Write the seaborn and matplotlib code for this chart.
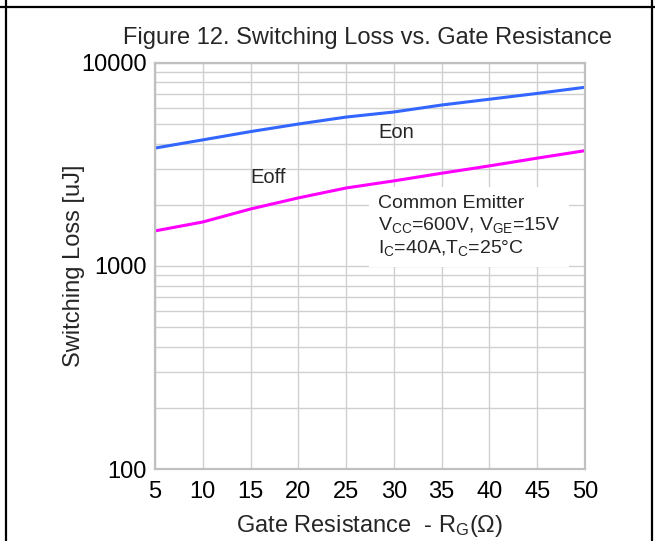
import matplotlib
matplotlib.use("Agg")
import matplotlib.pyplot as plt
from matplotlib.lines import Line2D
import pandas as pd
import seaborn as sns

# gate resistance [ohm] and switching losses [uJ]
rg = [5, 10, 15, 20, 25, 30, 35, 40, 45, 50]
eon = [3800, 4170, 4580, 4990, 5400, 5720, 6190, 6610, 7060, 7570]
eoff = [1486, 1644, 1905, 2160, 2417, 2620, 2857, 3105, 3390, 3690]

y_ticks = [100, 1000, 10000]
x_ticks = [5, 10, 15, 20, 25, 30, 35, 40, 45, 50]

df = pd.DataFrame({
    "Rg": rg + rg,
    "loss": eon + eoff,
    "curve": ["Eon"] * len(rg) + ["Eoff"] * len(rg),
})

sns.set_style("whitegrid")
plt.rcParams["font.family"] = ["Liberation Sans", "DejaVu Sans"]
plt.rcParams["mathtext.fontset"] = "custom"
plt.rcParams["mathtext.rm"] = "Liberation Sans"
plt.rcParams["mathtext.it"] = "Liberation Sans"

fig = plt.figure(figsize=(6.55, 5.41), dpi=100)
ax = fig.add_axes([155 / 655, 1 - 469 / 541, 430 / 655, (469 - 62.7) / 541])

sns.lineplot(data=df, x="Rg", y="loss", hue="curve",
             palette={"Eon": "#3366ff", "Eoff": "#ff00ff"},
             linewidth=2.2, legend=False, ax=ax)

ax.set_yscale("log")
ax.set_xlim(5, 50)
ax.set_ylim(100, 10000)
ax.set_xticks(x_ticks)
ax.set_xticklabels([str(v) for v in x_ticks])
ax.set_yticks(y_ticks)
ax.set_yticklabels([str(v) for v in y_ticks])
ax.yaxis.set_minor_locator(matplotlib.ticker.LogLocator(base=10, subs=range(2, 10)))
ax.yaxis.set_minor_formatter(matplotlib.ticker.NullFormatter())

ax.grid(True, which="both", color="#d0d0d0", linewidth=1.0)
ax.tick_params(which="both", length=0, labelsize=17, colors="black")
ax.tick_params(axis="x", pad=9)
ax.tick_params(axis="y", pad=6)
for s in ax.spines.values():
    s.set_color("#c0c0c0")
    s.set_linewidth(1.6)

ax.set_xlabel("Gate Resistance  - R$_\\mathrm{G}$(Ω)", fontsize=17, labelpad=7)
ax.set_ylabel("Switching Loss [uJ]", fontsize=17)
ax.yaxis.set_label_coords(-0.163, 0.5)

fig.text(0.561, 0.929, "Figure 12. Switching Loss vs. Gate Resistance",
         fontsize=17, ha="center", va="center")

ax.text(28.4, 4510, "Eon", fontsize=14.5, ha="left", va="center")
ax.text(15.0, 2710, "Eoff", fontsize=14.5, ha="left", va="center")
ax.text(28.3, 1560,
        "Common Emitter\nV$_\\mathrm{CC}$=600V, V$_\\mathrm{GE}$=15V\nI$_\\mathrm{C}$=40A,T$_\\mathrm{C}$=25°C",
        fontsize=14, ha="left", va="center", linespacing=1.22,
        bbox=dict(facecolor="white", edgecolor="none", pad=6))

# page frame lines
for xs, ys in [((6 / 655, 6 / 655), (0, 1)),
               ((0, 1), (1 - 7 / 541, 1 - 7 / 541)),
               ((652 / 655, 652 / 655), (0, 1))]:
    fig.add_artist(Line2D(xs, ys, transform=fig.transFigure, color="black", linewidth=1.6))

fig.savefig("out.png", dpi=100)
